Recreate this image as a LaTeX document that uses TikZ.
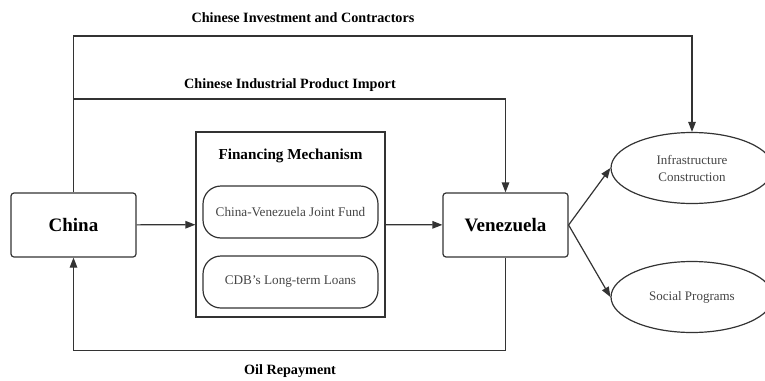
\documentclass[tikz,border=0pt]{standalone}
\usepackage{fontspec}
\setmainfont{Liberation Serif}
\usepackage{tikz}
\usetikzlibrary{shapes,arrows.meta,positioning}
\usepackage{xcolor}
\definecolor{linegray}{HTML}{333333}
\definecolor{textgray}{HTML}{444444}

\begin{document}
\begin{tikzpicture}[x=1pt, y=-1pt,
    actor/.style={draw=linegray, line width=1.2pt, rounded corners=3pt, minimum width=125pt, minimum height=64pt, font=\bfseries\fontsize{19}{22}\selectfont},
    pill/.style={draw=linegray, line width=1.2pt, rounded corners=18pt, minimum width=175pt, minimum height=52pt, text=textgray, font=\fontsize{13.2}{15}\selectfont},
    outcome/.style={ellipse, draw=linegray, line width=1.2pt, inner sep=0pt, minimum width=162pt, minimum height=71pt, align=center, text=textgray, font=\fontsize{13}{17}\selectfont},
    flowlabel/.style={font=\bfseries\fontsize{14.2}{16}\selectfont},
    flow/.style={draw=linegray, line width=1.2pt, -{Triangle[length=10pt,width=7.5pt]}}]
  \useasboundingbox (0,0) rectangle (765,380);

  % Countries
  \node[actor] (china) at (73.5,225) {China};
  \node[actor] (venezuela) at (505.5,225) {Venezuela};

  % Financing mechanism
  \node[draw=linegray, line width=1.2pt, minimum width=189pt, minimum height=185pt] (fin) at (290.5,224.5) {};
  \node[font=\bfseries\fontsize{15.2}{17}\selectfont] (fintitle) at (290.5,156) {Financing Mechanism};
  \node[pill] (fund) at (290.5,212) {China-Venezuela Joint Fund};
  \node[pill] (loans) at (290.5,282) {CDB's Long-term Loans};

  % Outcomes
  \node[outcome] (infra) at (692,168) {Infrastructure\\Construction};
  \node[outcome] (social) at (692,297) {Social Programs};

  % Flows
  \coordinate (trunk) at (73.5,36);
  \coordinate (branch) at (73.5,99);
  \draw[flow] (china) -- (fin);
  \draw[flow] (fin) -- (venezuela);
  \draw[flow] (venezuela.east) -- (infra.west);
  \draw[flow] (venezuela.east) -- (social.west);
  \draw[flow] (china.north) -- (trunk) -| (infra.north);
  \draw[flow] (branch) -| (venezuela.north);
  \draw[flow] (venezuela.south) -- ++(0,93) -| (china.south);

  % Flow labels
  \node[flowlabel] (invest) at (303,18) {Chinese Investment and Contractors};
  \node[flowlabel] (import) at (290,85) {Chinese Industrial Product Import};
  \node[flowlabel] (oil) at (290,371) {Oil Repayment};
\end{tikzpicture}
\end{document}
